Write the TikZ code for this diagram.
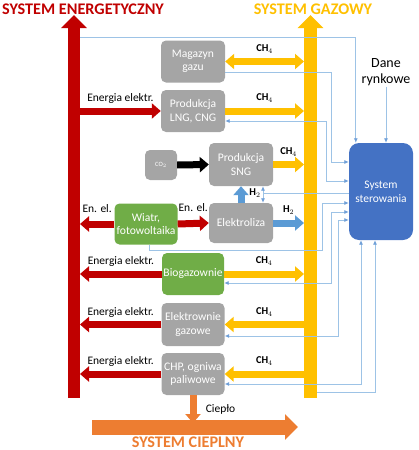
\documentclass[tikz,border=0pt]{standalone}
\usepackage{fontspec}
\setmainfont{Carlito}
\usetikzlibrary{arrows.meta}
\usetikzlibrary{positioning}

\definecolor{elred}{HTML}{C00000}
\definecolor{gasyellow}{HTML}{FFC000}
\definecolor{heatorange}{HTML}{ED7D31}
\definecolor{boxgray}{HTML}{A5A5A5}
\definecolor{boxgreen}{HTML}{70AD47}
\definecolor{ctrlblue}{HTML}{4472C4}
\definecolor{hblue}{HTML}{5B9BD5}
\definecolor{linkblue}{HTML}{9DC3E6}
\definecolor{tipblue}{HTML}{6F9FD8}

\tikzset{
	ftip/.tip={Triangle[width=15pt,length=9pt]},
	btip/.tip={Triangle[width=25pt,length=13pt]},
	ltip/.tip={Latex[length=4.5pt,width=4pt,color=tipblue]}
}

\begin{document}
\begin{tikzpicture}[x=1pt,y=-1pt,
	box/.style={rectangle,rounded corners=5pt,text=white,align=center,inner sep=1pt,
		font=\fontsize{11.6}{13.5}\selectfont},
	gray node/.style={box,fill=boxgray,minimum width=64pt,minimum height=42pt},
	green node/.style={box,fill=boxgreen,minimum width=63pt,minimum height=42pt},
	fat/.style={line width=7pt,-ftip},
	fat2/.style={line width=7pt,ftip-ftip},
	bar/.style={line width=12.5pt,-btip},
	link/.style={draw=linkblue,line width=0.8pt,-ltip},
	link2/.style={draw=linkblue,line width=0.8pt,ltip-ltip},
	lbl/.style={text=black,font=\fontsize{11.5}{12}\selectfont,inner sep=0pt,above=4pt},
	gas lbl/.style={text=black,font=\bfseries\fontsize{10.5}{11}\selectfont,inner sep=0pt,above=5pt},
	title/.style={font=\bfseries\fontsize{16.2}{17}\selectfont}]

	\useasboundingbox (0,0) rectangle (419,450);

	% systems
	\node[title,text=elred] (tel) at (83,9) {SYSTEM ENERGETYCZNY};
	\node[title,text=gasyellow] (tgas) at (313,9) {SYSTEM GAZOWY};
	\node[title,text=heatorange] (theat) at (188,442) {SYSTEM CIEPLNY};

	\coordinate (ered) at (80,0);
	\coordinate (gasl) at (304,0);
	\coordinate (etop) at (80,37);
	\coordinate (gbot) at (317,392);
	\coordinate (hs) at (92,427);
	\coordinate (he) at (298,427);

	\draw[bar,elred] (74,398) -- (74,15);
	\draw[bar,gasyellow] (310.5,398) -- (310.5,15);
	\draw[line width=15pt,-btip,heatorange] (hs) -- (he);

	% boxes
	\node[gray node] (mag) at (193,61.5) {Magazyn\\gazu};
	\node[gray node] (lng) at (193,111) {Produkcja\\LNG, CNG};
	\node[box,fill=boxgray,minimum width=32pt,minimum height=30pt,
		font=\fontsize{6.5}{7}\selectfont] (co2) at (161,165) {CO$_2$};
	\node[gray node,minimum height=43pt] (sng) at (241,164.5) {Produkcja\\SNG};
	\node[gray node,minimum height=40pt] (elek) at (241,223) {Elektroliza};
	\node[green node,minimum height=41pt] (wiatr) at (146,224) {Wiatr,\\fotowoltaika};
	\node[green node,minimum width=62pt] (bio) at (193,274) {Biogazownie};
	\node[gray node,minimum width=63pt,minimum height=43pt] (elgaz) at (193,324.5) {Elektrownie\\gazowe};
	\node[gray node,minimum width=63pt] (chp) at (193,374) {CHP, ogniwa\\paliwowe};
	\node[box,fill=ctrlblue,rounded corners=10pt,minimum width=64pt,minimum height=97pt,
		font=\fontsize{11.5}{14}\selectfont] (ctrl) at (381,191.5) {System\\sterowania};
	\node[font=\fontsize{14}{15.5}\selectfont,align=center,inner sep=1pt] (dane) at (386,72) {Dane\\rynkowe};

	% electricity
	\draw[fat,elred] (lng.west -| ered) -- node[lbl] {Energia elektr.} (lng.west);
	\draw[fat,elred] (wiatr.west) -- node[lbl,above=8pt] {En. el.} (wiatr.west -| ered);
	\draw[fat,elred] (wiatr.east) -- node[lbl,above=8pt] {En. el.} (elek.west);
	\draw[fat,elred] (bio.west) -- node[lbl] {Energia elektr.} (bio.west -| ered);
	\draw[fat,elred] (elgaz.west) -- node[lbl] {Energia elektr.} (elgaz.west -| ered);
	\draw[fat,elred] (chp.west) -- node[lbl] {Energia elektr.} (chp.west -| ered);

	% gas
	\draw[fat2,gasyellow] (mag.east) -- node[gas lbl] {CH$_4$} (mag.east -| gasl);
	\draw[fat,gasyellow] (lng.east) -- node[gas lbl] {CH$_4$} (lng.east -| gasl);
	\draw[fat,gasyellow] (sng.east) -- node[gas lbl] {CH$_4$} (sng.east -| gasl);
	\draw[fat,hblue] (elek.east) -- node[gas lbl] {H$_2$} (elek.east -| gasl);
	\draw[fat,gasyellow] (bio.east) -- node[gas lbl] {CH$_4$} (bio.east -| gasl);
	\draw[fat,gasyellow] (elgaz.east -| gasl) -- node[gas lbl] {CH$_4$} (elgaz.east);
	\draw[fat,gasyellow] (chp.east -| gasl) -- node[gas lbl] {CH$_4$} (chp.east);
	\draw[fat,black] (co2.east) -- (sng.west);
	\draw[fat,hblue] (elek.north) -- (sng.south);

	% heat
	\draw[fat,heatorange] (chp.south) -- node[right=6pt,text=black,font=\fontsize{11.5}{12}\selectfont] {Ciepło} (chp.south |- 0,423);

	% control links
	\draw[link] (etop) -| ([xshift=7pt]ctrl.north west);
	\draw[link] (dane.south) -- (dane.south |- ctrl.north);
	\draw[link] (mag.east |- 0,72) -| (331,162) -- (ctrl.west |- 0,162);
	\draw[link2] (lng.east |- 0,121) -| (326,181) -- (ctrl.west |- 0,181);
	\draw[link2] (sng.south -| 263,0) -- (elek.north -| 263,0);
	\draw[draw=linkblue,line width=0.8pt] (263,193) -- (ctrl.west |- 0,193);
	\node[gas lbl,above=0pt,anchor=center] (h2) at (255,193) {H$_2$};
	\draw[link] (wiatr.south -| 149,0) |- (322,250) |- (ctrl.west |- 0,203);
	\draw[link2] (bio.east |- 0,283) -| (331,212) -- (ctrl.west |- 0,212);
	\draw[link2] (elgaz.east |- 0,336) -| (338,220) -- (ctrl.west |- 0,220);
	\draw[link2] (chp.east |- 0,384) -| (ctrl.south -| 361,0);
	\draw[link] (gbot) -| (ctrl.south -| 375,0);
\end{tikzpicture}
\end{document}
